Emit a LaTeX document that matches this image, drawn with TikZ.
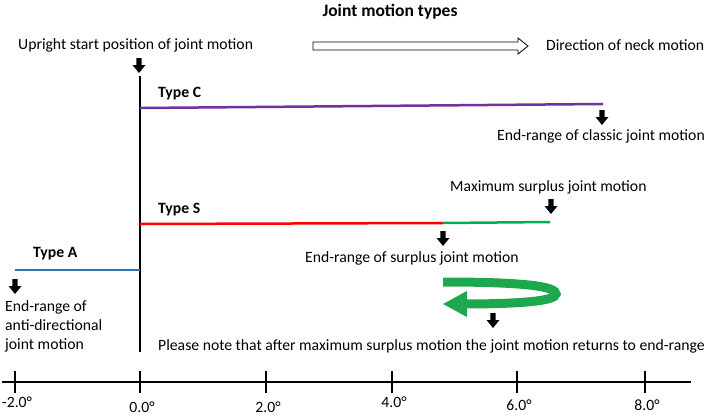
\documentclass[tikz,border=0pt]{standalone}
\usepackage{fontspec}
\setmainfont{Carlito}
\usepackage{tikz}
\definecolor{typeC}{RGB}{112,48,160}
\definecolor{typeS}{RGB}{255,0,0}
\definecolor{surplus}{RGB}{0,176,80}
\definecolor{typeA}{RGB}{46,117,182}
\definecolor{curl}{RGB}{30,168,78}
\begin{document}
\begin{tikzpicture}[x=1pt,y=-1pt]
	\tikzstyle{every node}+=[inner sep=0pt, font=\fontsize{15.7}{18}\selectfont]
	\tikzstyle{lbl}=[anchor=west]
	\tikzstyle{typelbl}=[anchor=west, font=\fontsize{15.7}{18}\selectfont\bfseries]
	\tikzstyle{rangeline}=[line width=2.5pt]
	\tikzset{dnarrow/.pic={\fill [black] (-2.7,0) -- (2.7,0) -- (2.7,7) -- (6.5,7) -- (0,15) -- (-6.5,7) -- (-2.7,7) -- cycle;}}
	\useasboundingbox (0,0) rectangle (709,415);
	% title and direction
	\node [typelbl, anchor=center, font=\fontsize{17.5}{20}\selectfont\bfseries] (title) at (390,12) {Joint motion types};
	\node [lbl] (upright) at (18,45) {Upright start position of joint motion};
	\draw [black, line width=0.8pt, fill=white] (313,42) -- (518,42) -- (518,38) -- (528,46) -- (518,54) -- (518,50) -- (313,50) -- cycle;
	\node [lbl] (direction) at (546,45) {Direction of neck motion};
	\pic at (139,58) {dnarrow};
	% zero line
	\coordinate (ztop) at (140,76);
	\coordinate (zbot) at (140,352);
	\draw [black, line width=2.5pt] (ztop) -- (zbot);
	% type C
	\node [typelbl] (tc) at (158,94) {Type C};
	\coordinate (c0) at (140,108);
	\coordinate (c1) at (603,104);
	\draw [rangeline, typeC] (c0) -- (c1);
	\pic at (602,110) {dnarrow};
	\node [lbl] (classic) at (497,136) {End-range of classic joint motion};
	% type S
	\node [lbl] (maxsur) at (450,187) {Maximum surplus joint motion};
	\pic at (551,199) {dnarrow};
	\node [typelbl] (ts) at (158,210) {Type S};
	\coordinate (s0) at (140,224);
	\coordinate (s1) at (443,223);
	\coordinate (s2) at (550,222);
	\draw [rangeline, typeS] (s0) -- (s1);
	\draw [rangeline, surplus] (s1) -- (s2);
	\pic at (443,231) {dnarrow};
	\node [lbl] (sur) at (305,258) {End-range of surplus joint motion};
	% return curl
	\draw [curl, line width=9pt] (443,282) .. controls (530,282) and (556,287) .. (556,294) .. controls (556,301) and (520,304) .. (462,304);
	\fill [curl] (467,291) -- (443,304) -- (467,317) -- cycle;
	\pic at (493,313) {dnarrow};
	\node [lbl] (note) at (158,346) {Please note that after maximum surplus motion the joint motion returns to end-range};
	% type A
	\node [typelbl] (ta) at (33,254) {Type A};
	\coordinate (a0) at (15,270);
	\draw [rangeline, typeA] (a0) -- (zbot |- a0);
	\pic at (15,279) {dnarrow};
	\node [lbl, align=left, anchor=north west, font=\fontsize{15.7}{19.3}\selectfont] (anti) at (5,300) {End-range of\\anti-directional\\joint motion};
	% axis
	\draw [black, line width=2.5pt] (2,382) -- (691,382);
	\foreach \x/\v/\y in {15/-2.0/402, 140/0.0/407, 266/2.0/407, 392/4.0/402, 517/6.0/405, 645/8.0/405} {
		\draw [black, line width=2pt] (\x,371) -- (\x,393);
		\node (tick\x) at (\x+2,\y) {\v°};
	}
\end{tikzpicture}
\end{document}
